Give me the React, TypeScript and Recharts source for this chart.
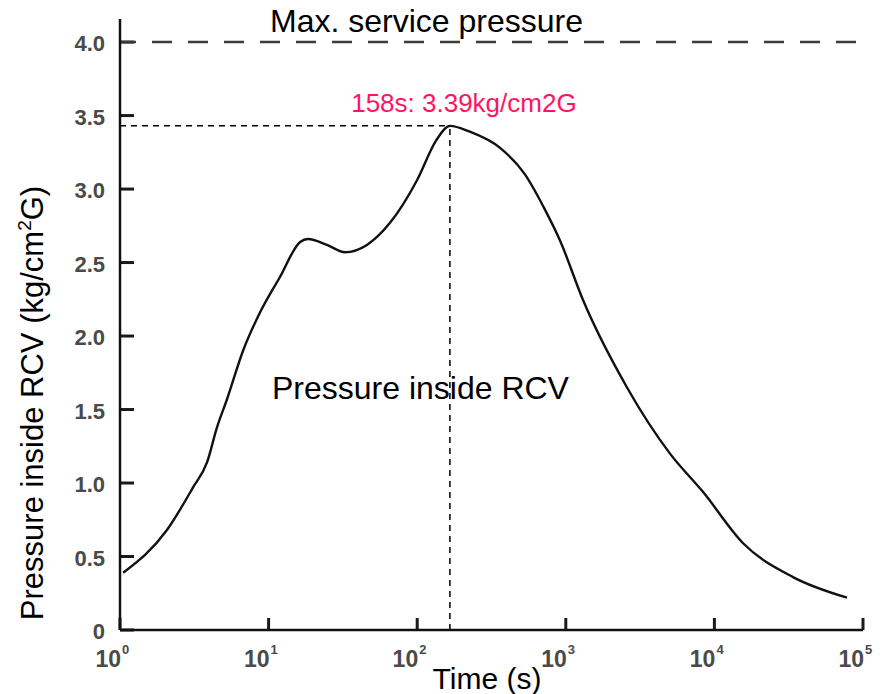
import {
  LineChart, Line, XAxis, YAxis, ReferenceLine, ReferenceDot, Label,
} from "recharts";

const FONT = "'Liberation Sans', Arial, Helvetica, sans-serif";

// time (s) and pressure (kg/cm2G)
const times = [
  1.05, 2.07, 3.1, 3.85, 4.5, 5.25, 6.73, 8.75, 11.9, 16.3, 18.4, 24.7, 32.7,
  45.9, 65.6, 99.7, 134, 166, 226, 361, 531, 724, 914, 1306, 2582, 5026, 8375,
  15600, 33800, 78000,
];
const pressure = [
  0.39, 0.68, 0.97, 1.14, 1.38, 1.57, 1.9, 2.16, 2.4, 2.64, 2.66, 2.62, 2.57,
  2.62, 2.77, 3.06, 3.33, 3.43, 3.39, 3.28, 3.1, 2.86, 2.65, 2.245, 1.65, 1.2,
  0.94, 0.59, 0.36, 0.22,
];

const xTicks = [1, 10, 100, 1000, 10000, 100000];
const yTicks = [0, 0.5, 1, 1.5, 2, 2.5, 3, 3.5, 4];

const maxService = 4.0;
const peakTime = 166;
const peakValue = 3.43;

const data = times.map((t, i) => ({ t, p: pressure[i] }));

const TICK_COLOR = "#1a1a1a";

function YTick({ x, y, payload }: any) {
  const v = payload.value as number;
  const label = v === 0 ? "0" : v.toFixed(1);
  return (
    <text
      x={x - 15} y={y + 9} textAnchor="end"
      fontFamily={FONT} fontSize={22} fontWeight="bold" fill="#4a4a4a"
    >
      {label}
    </text>
  );
}

function XTick({ x, y, payload }: any) {
  const exp = Math.round(Math.log10(payload.value));
  return (
    <g>
      <text x={x + 1} y={y + 37} textAnchor="end" fontFamily={FONT} fontSize={23} fontWeight="bold" fill="#4a4a4a">
        10
      </text>
      <text x={x + 2} y={y + 24} textAnchor="start" fontFamily={FONT} fontSize={13} fontWeight="bold" fill="#4a4a4a">
        {exp}
      </text>
    </g>
  );
}

// short inward tick marks, drawn from the axis end of a reference line
const yTickMark = (p: any) => (
  <line x1={p.x1} x2={p.x1 + 14} y1={p.y1} y2={p.y1} stroke={TICK_COLOR} strokeWidth={3} />
);
const xTickMark = (p: any) => {
  const yb = Math.max(p.y1, p.y2);
  return <line x1={p.x1} x2={p.x1} y1={yb} y2={yb - 12} stroke={TICK_COLOR} strokeWidth={3} />;
};

function YTitle({ viewBox }: any) {
  const cx = 43;
  const cy = viewBox.y + 384;
  return (
    <text
      x={cx} y={cy} textAnchor="middle" transform={`rotate(-90, ${cx}, ${cy})`}
      fontFamily={FONT} fontSize={31} fill="#000"
    >
      Pressure inside RCV (kg/cm
      <tspan fontSize={19} dy={-12}>2</tspan>
      <tspan dy={12}>G)</tspan>
    </text>
  );
}

function XTitle({ viewBox }: any) {
  return (
    <text
      x={487} y={viewBox.y + 59} textAnchor="middle"
      fontFamily={FONT} fontSize={30} fill="#000"
    >
      Time (s)
    </text>
  );
}

export default function App() {
  return (
    <div style={{ position: "absolute", left: 0, top: 0, background: "#fff" }}>
      <LineChart
        width={887} height={694} data={data}
        margin={{ top: 19, right: 24, left: 0, bottom: 24 }}
      >
        <XAxis
          dataKey="t" type="number" scale="log" domain={[1, 100000]}
          ticks={xTicks} allowDataOverflow height={40}
          tickSize={0} tickMargin={0} tickLine={false} interval={0}
          axisLine={{ stroke: "#111", strokeWidth: 2.5 }}
          tick={<XTick />}
        >
          <Label content={<XTitle />} />
        </XAxis>
        <YAxis
          type="number" domain={[0, 4.157]} ticks={yTicks} width={120}
          allowDataOverflow tickSize={0} tickMargin={0} tickLine={false} interval={0}
          axisLine={{ stroke: "#111", strokeWidth: 2.5 }}
          tick={<YTick />}
        >
          <Label content={<YTitle />} />
        </YAxis>

        {yTicks.map((v) => (
          <ReferenceLine key={`yt${v}`} y={v} shape={yTickMark} />
        ))}
        {xTicks.map((t) => (
          <ReferenceLine key={`xt${t}`} x={t} shape={xTickMark} />
        ))}

        <ReferenceLine
          y={maxService} stroke="#3a3a3a" strokeWidth={2.5}
          strokeDasharray="20 16" strokeDashoffset={4}
        >
          <Label
            content={({ viewBox }: any) => (
              <text x={viewBox.x + 150} y={viewBox.y - 10} fontFamily={FONT} fontSize={32} fill="#000">
                Max. service pressure
              </text>
            )}
          />
        </ReferenceLine>

        <ReferenceLine
          segment={[{ x: 1, y: peakValue }, { x: peakTime, y: peakValue }]}
          stroke="#000" strokeWidth={1.5} strokeDasharray="6 5"
        />
        <ReferenceLine
          segment={[{ x: peakTime, y: 0 }, { x: peakTime, y: peakValue }]}
          stroke="#000" strokeWidth={1.5} strokeDasharray="6 5"
        >
          <Label
            content={({ viewBox }: any) => (
              <text
                x={viewBox.x + 14} y={viewBox.y - 14} textAnchor="middle"
                fontFamily={FONT} fontSize={26} fill="#ff1464"
              >
                158s: 3.39kg/cm2G
              </text>
            )}
          />
        </ReferenceLine>

        <ReferenceDot x={10.7} y={1.565} r={1} fillOpacity={0} strokeOpacity={0}>
          <Label
            content={({ viewBox }: any) => (
              <text x={viewBox.x} y={viewBox.y} fontFamily={FONT} fontSize={32} fill="#000">
                Pressure inside RCV
              </text>
            )}
          />
        </ReferenceDot>

        <Line
          dataKey="p" type="monotone" stroke="#111" strokeWidth={2.4}
          dot={false} activeDot={false} isAnimationActive={false}
        />
      </LineChart>
    </div>
  );
}
